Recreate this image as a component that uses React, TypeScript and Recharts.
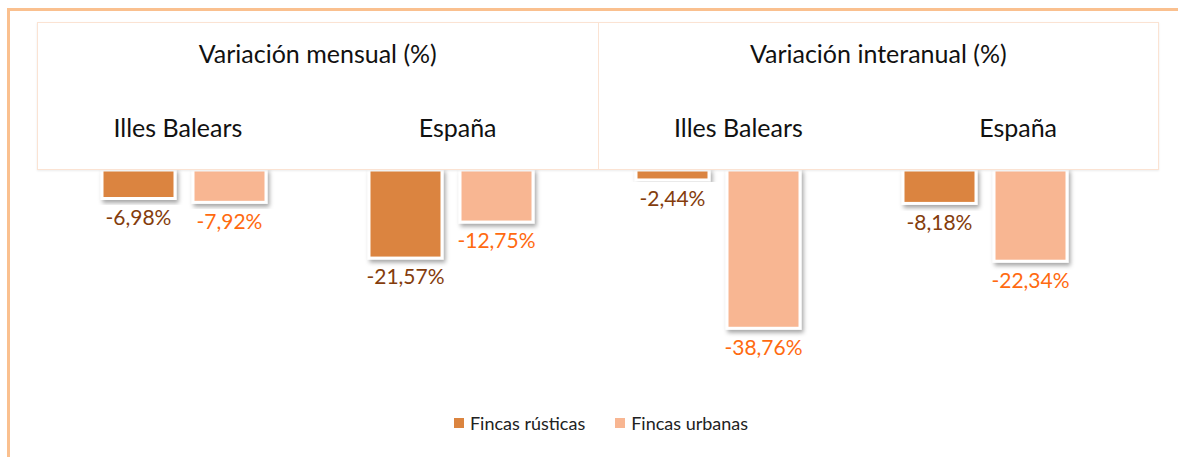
import { BarChart, Bar, XAxis, YAxis, LabelList } from 'recharts';

const regions = ['Illes Balears', 'España', 'Illes Balears ', 'España '];
const rusticas = [-6.98, -21.57, -2.44, -8.18];
const urbanas = [-7.92, -12.75, -38.76, -22.34];
const groupTitles = ['Variación mensual (%)', 'Variación interanual (%)'];
const seriesNames = ['Fincas rústicas', 'Fincas urbanas'];

const COLORS = ['#DB843F', '#F8B692'];
const LABEL_COLORS = ['#843C0C', '#FF6A10'];
const FONT = 'Lato, "Noto Sans", sans-serif';

const data = regions.map((r, i) => ({ region: r, rusticas: rusticas[i], urbanas: urbanas[i] }));

const fmt = (v: number) => v.toFixed(2).replace('.', ',') + '%';

const ShadowBar = (props: any) => {
  const { x, y, width, height, fill } = props;
  const top = Math.min(y, y + height);
  const h = Math.abs(height);
  return (
    <rect x={x} y={top} width={width} height={h} fill={fill} stroke="#fff" strokeWidth={3} filter="url(#barShadow)" />
  );
};

const makeLabel = (color: string) => (props: any) => {
  const { x, y, width, height, value } = props;
  const bottom = Math.max(y, y + height);
  return (
    <text x={x + width / 2} y={bottom + 21} textAnchor="middle" dominantBaseline="middle" fill={color} fontSize={21} fontFamily={FONT}>
      {fmt(value)}
    </text>
  );
};

export default function App() {
  return (
    <div style={{ position: 'absolute', left: 0, top: 0, width: 1178, height: 457, background: '#fff', overflow: 'hidden' }}>
      <div style={{ position: 'absolute', left: 7, top: 8, right: 0, bottom: 0, borderTop: '3px solid #FAC08F', borderLeft: '3px solid #FAC08F' }} />
      <BarChart width={1178} height={457} data={data} margin={{ top: 170, right: 60, left: 50, bottom: 42 }} barCategoryGap={52} barGap={18}>
        <defs>
          <filter id="barShadow" x="-20%" y="-20%" width="140%" height="140%">
            <feDropShadow dx={2} dy={3} stdDeviation={2} floodColor="#000" floodOpacity={0.35} />
          </filter>
        </defs>
        <XAxis dataKey="region" hide />
        <YAxis domain={[-60, 0]} hide allowDataOverflow />
        <Bar dataKey="rusticas" name={seriesNames[0]} fill={COLORS[0]} shape={<ShadowBar />} isAnimationActive={false}>
          <LabelList dataKey="rusticas" content={makeLabel(LABEL_COLORS[0])} />
        </Bar>
        <Bar dataKey="urbanas" name={seriesNames[1]} fill={COLORS[1]} shape={<ShadowBar />} isAnimationActive={false}>
          <LabelList dataKey="urbanas" content={makeLabel(LABEL_COLORS[1])} />
        </Bar>
      </BarChart>
      <div style={{ position: 'absolute', left: 12, top: 412, width: 1178, display: 'flex', justifyContent: 'center', gap: 30, fontFamily: FONT, fontSize: 18, color: '#222' }}>
        {seriesNames.map((n, i) => (
          <div key={n} style={{ display: 'flex', alignItems: 'center', gap: 6 }}>
            <span style={{ width: 10, height: 10, background: COLORS[i], display: 'inline-block' }} />
            <span>{n}</span>
          </div>
        ))}
      </div>
      <div style={{ position: 'absolute', left: 37, top: 22, width: 1120, height: 146, background: '#fff', border: '1px solid #FBE3D3', boxShadow: '0 1px 2px rgba(0,0,0,0.08)', fontFamily: FONT, color: '#111', display: 'flex' }}>
        {groupTitles.map((t, g) => (
          <div key={t} style={{ flex: 1, borderLeft: g === 1 ? '1px solid #FBE3D3' : 'none', position: 'relative' }}>
            <div style={{ position: 'absolute', top: 15, left: 0, right: 0, textAlign: 'center', fontSize: 25 }}>{t}</div>
            <div style={{ position: 'absolute', top: 89, left: 0, right: 0, display: 'flex', fontSize: 25 }}>
              {regions.slice(g * 2, g * 2 + 2).map((r) => (
                <div key={r} style={{ flex: 1, textAlign: 'center' }}>{r.trim()}</div>
              ))}
            </div>
          </div>
        ))}
      </div>
    </div>
  );
}
